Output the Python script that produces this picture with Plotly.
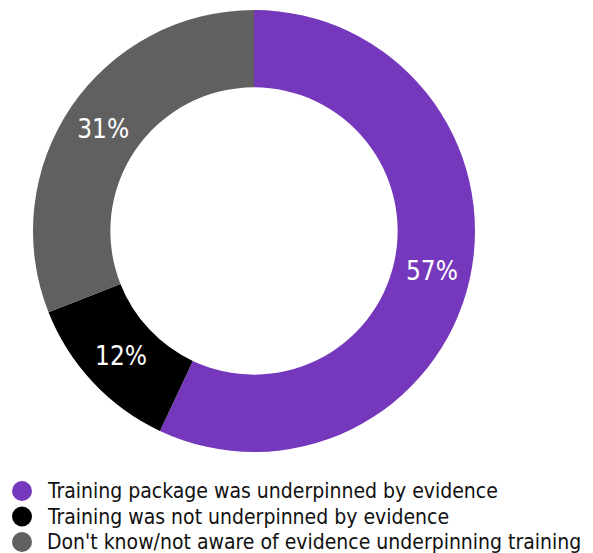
import plotly.graph_objects as go

labels = ["Training package was underpinned by evidence",
          "Training was not underpinned by evidence",
          "Don't know/not aware of evidence underpinning training"]
values = [57, 12, 31]
colors = ["#7537BC", "#000000", "#606060"]

LABEL_FONT = "DejaVu Sans Condensed, sans-serif"
LEGEND_FONT = "DejaVu Sans Condensed, sans-serif"

# page body has an 8px margin; size the figure to fit the 593x553 window
OFF = 8
W, H = 593 - OFF, 553 - OFF

def px(x):
    return (x - OFF) / W

def py(y):
    return (H - (y - OFF)) / H

fig = go.Figure()
fig.add_trace(go.Pie(
    labels=labels, values=values, sort=False, direction="clockwise", rotation=0,
    hole=0.65, marker=dict(colors=colors, line=dict(width=0)),
    texttemplate="%{value}%", textposition="inside", insidetextorientation="horizontal",
    textfont=dict(color="white", size=26, family=LABEL_FONT),
    domain=dict(x=[px(33), px(475)], y=[py(452), py(10)]),
    showlegend=False, hoverinfo="label+percent"))

shapes = []
annotations = []
row_y = [491, 516.5, 542]
for lab, col, yy in zip(labels, colors, row_y):
    cy = py(yy)
    shapes.append(dict(type="circle", xref="paper", yref="paper",
                       x0=px(12), x1=px(32), y0=cy - 10/H, y1=cy + 10/H,
                       fillcolor=col, line=dict(width=0)))
    annotations.append(dict(text=lab, xref="paper", yref="paper", x=px(45), y=cy,
                            xanchor="left", yanchor="middle", showarrow=False,
                            font=dict(family=LEGEND_FONT, size=21, color="#111")))

fig.update_layout(
    width=W, height=H, margin=dict(l=0, r=0, t=0, b=0),
    paper_bgcolor="white", plot_bgcolor="white",
    showlegend=False, shapes=shapes, annotations=annotations,
)
fig.write_html("out.html")
